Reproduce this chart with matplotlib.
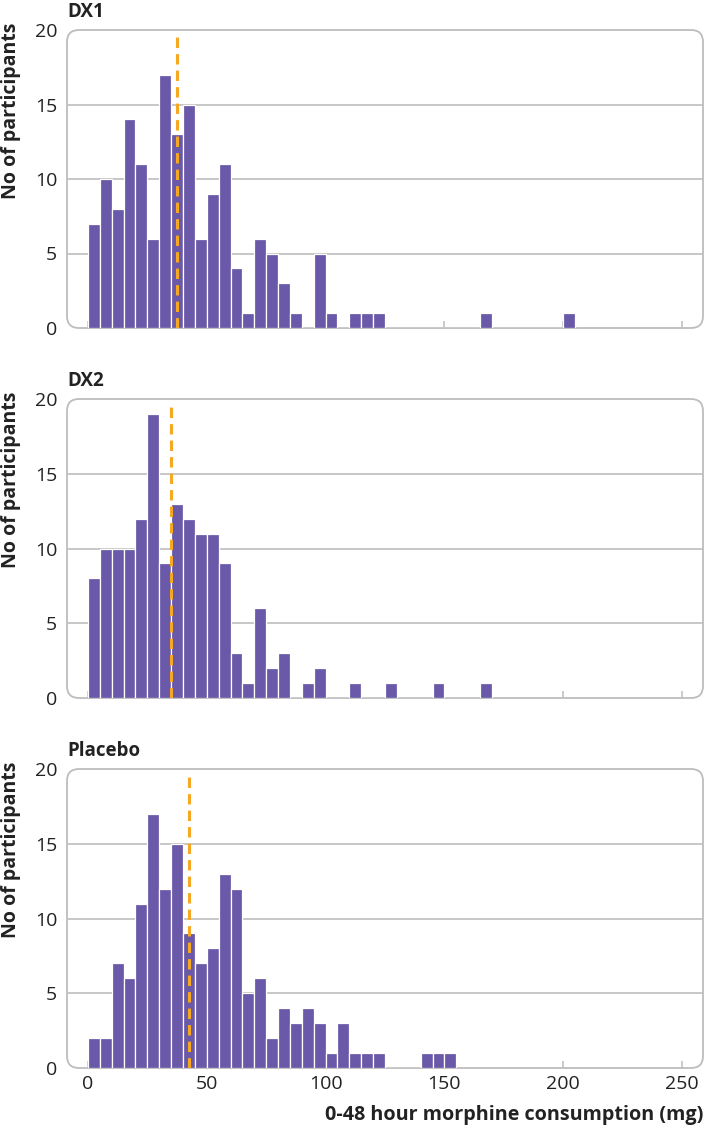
import matplotlib
matplotlib.use("Agg")
import matplotlib.pyplot as plt
from matplotlib.patches import FancyBboxPatch
import numpy as np

plt.rcParams['font.family'] = ['Open Sans', 'DejaVu Sans']

# Data: counts per 5 mg bin starting at 0 mg
bin_width = 5
dx1_counts = [7, 10, 8, 14, 11, 6, 17, 13, 15, 6, 9, 11, 4, 1, 6, 5, 3, 1,
              0, 5, 1, 0, 1, 1, 1, 0, 0, 0, 0, 0, 0, 0, 0, 1, 0, 0, 0, 0, 0, 0, 1]
dx2_counts = [8, 10, 10, 10, 12, 19, 9, 13, 12, 11, 11, 9, 3, 1, 6, 2, 3, 0,
              1, 2, 0, 0, 1, 0, 0, 1, 0, 0, 0, 1, 0, 0, 0, 1]
placebo_counts = [2, 2, 7, 6, 11, 17, 12, 15, 9, 7, 8, 13, 12, 5, 6, 2, 4, 3,
                  4, 3, 1, 3, 1, 1, 1, 0, 0, 0, 1, 1, 1]
medians = [37.3, 34.9, 42.5]
panel_titles = ["DX1", "DX2", "Placebo"]
x_ticks = [0, 50, 100, 150, 200, 250]
y_ticks = [0, 5, 10, 15, 20]

bar_color = "#6a58a8"
median_color = "#f7a823"
frame_color = "#bdbdbd"
text_color = "#222222"

W, H = 705, 1129
fig = plt.figure(figsize=(W / 100, H / 100), dpi=100)

left_px, right_px = 67, 703
panels_px = [(30, 328), (399, 698), (769, 1068)]

for i, (counts, med, title) in enumerate(zip([dx1_counts, dx2_counts, placebo_counts],
                                             medians, panel_titles)):
    top, bottom = panels_px[i]
    ax = fig.add_axes([left_px / W, 1 - bottom / H, (right_px - left_px) / W, (bottom - top) / H])
    edges = np.arange(len(counts)) * bin_width
    ax.bar(edges, counts, width=bin_width, align='edge', color=bar_color,
           edgecolor='white', linewidth=0.9, zorder=3)
    ax.plot([med, med], [0, 19.6], color=median_color, lw=2.2,
            dashes=(3.4, 2.0), zorder=4, solid_capstyle='butt')
    ax.set_xlim(-8.8, 258.8)
    ax.set_ylim(0, 20)
    for s in ax.spines.values():
        s.set_visible(False)
    for yv in y_ticks[1:-1]:
        ax.axhline(yv, color=frame_color, lw=1.2, zorder=1)
    aw = right_px - left_px
    ah = bottom - top
    frame = FancyBboxPatch((0, 0), 1, 1, boxstyle="round,pad=0,rounding_size=%f" % (12 / aw),
                           mutation_aspect=aw / ah, transform=ax.transAxes,
                           facecolor='none', edgecolor=frame_color, lw=1.3,
                           clip_on=False, zorder=2)
    ax.add_patch(frame)
    ax.set_yticks(y_ticks)
    ax.set_yticklabels([str(v) for v in y_ticks], fontsize=14, color=text_color)
    ax.tick_params(axis='y', length=0, pad=7)
    ax.set_xticks(x_ticks)
    ax.tick_params(axis='x', direction='in', length=5, width=1.1, color=frame_color,
                   labelsize=14, labelcolor=text_color, pad=5)
    if i < 2:
        ax.set_xticklabels([])
    else:
        ax.set_xticklabels([str(v) for v in x_ticks])
        ax.set_xlabel("0-48 hour morphine consumption (mg)", fontsize=14.2,
                      fontweight='bold', color=text_color, loc='right', labelpad=9)
    ax.set_ylabel("No of participants", fontsize=14, fontweight='bold',
                  color=text_color)
    ax.yaxis.set_label_coords((21 - left_px) / aw, 0.73)
    ax.text(0, 1.0 + 18 / ah, title, transform=ax.transAxes, fontsize=13.5,
            fontweight='bold', color=text_color, ha='left', va='center')

fig.savefig("out.png", dpi=100, facecolor='white')
